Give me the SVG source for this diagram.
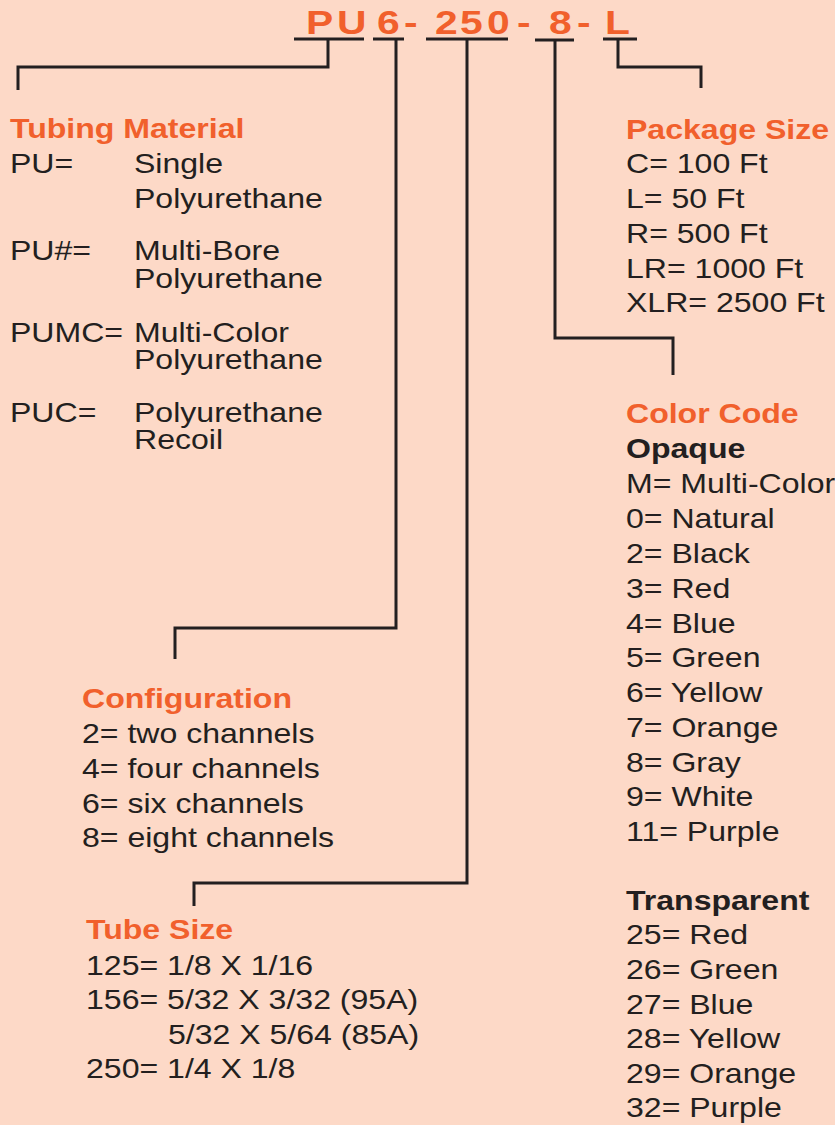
<svg xmlns="http://www.w3.org/2000/svg" width="835" height="1125" viewBox="0 0 835 1125">
<style>
.t{font-family:"Liberation Sans",Arial,sans-serif;font-size:28px;fill:#231f20}
.h{font-family:"Liberation Sans",Arial,sans-serif;font-size:28px;font-weight:bold;fill:#f1602c}
.b{font-family:"Liberation Sans",Arial,sans-serif;font-size:28px;font-weight:bold;fill:#231f20}
.code{font-family:"Liberation Sans",Arial,sans-serif;font-size:34px;font-weight:bold;fill:#f1602c}
.ln{fill:none;stroke:#231f20;stroke-width:3}
</style>
<rect width="835" height="1125" fill="#fdd9c7"/>
<g id="code" transform="scale(1.2,1)">
<text class="code" y="34" x="255 280.8 314.2 336.7 362.5 383.3 405.8 430.8 457.5 480.8 504.2">PU6-250-8-L</text>
</g>
<g id="connectors" class="ln">
<path d="M294,39 H364 M373,39 H404 M426,39 H508 M535,40 H574 M603,39 H637"/>
<path d="M328,39 V67 H18 V90"/>
<path d="M396,39 V628 H175 V659"/>
<path d="M467,39 V883 H194 V906"/>
<path d="M555,40 V338 H673 V375"/>
<path d="M618,39 V67 H701 V88"/>
</g>
<g id="tubing-material" transform="translate(10,0) scale(1.145,1)">
<text class="h" x="0" y="138">Tubing Material</text>
<text class="t" x="0" y="173">PU=</text>
<text class="t" x="108.3" y="173">Single</text>
<text class="t" x="108.3" y="208">Polyurethane</text>
<text class="t" x="0" y="260">PU#=</text>
<text class="t" x="108.3" y="260">Multi-Bore</text>
<text class="t" x="108.3" y="288">Polyurethane</text>
<text class="t" x="0" y="342">PUMC=</text>
<text class="t" x="108.3" y="342">Multi-Color</text>
<text class="t" x="108.3" y="369">Polyurethane</text>
<text class="t" x="0" y="422">PUC=</text>
<text class="t" x="108.3" y="422">Polyurethane</text>
<text class="t" x="108.3" y="449">Recoil</text>
</g>
<g id="package-size" transform="translate(626,0) scale(1.145,1)">
<text class="h" x="0" y="139">Package Size</text>
<text class="t" x="0" y="173">C= 100 Ft</text>
<text class="t" x="0" y="208">L= 50 Ft</text>
<text class="t" x="0" y="243">R= 500 Ft</text>
<text class="t" x="0" y="278">LR= 1000 Ft</text>
<text class="t" x="0" y="312">XLR= 2500 Ft</text>
</g>
<g id="color-code" transform="translate(626,0) scale(1.145,1)">
<text class="h" x="0" y="423">Color Code</text>
<text class="b" x="0" y="458">Opaque</text>
<text class="t" x="0" y="493">M= Multi-Color</text>
<text class="t" x="0" y="528">0= Natural</text>
<text class="t" x="0" y="563">2= Black</text>
<text class="t" x="0" y="598">3= Red</text>
<text class="t" x="0" y="633">4= Blue</text>
<text class="t" x="0" y="667">5= Green</text>
<text class="t" x="0" y="702">6= Yellow</text>
<text class="t" x="0" y="737">7= Orange</text>
<text class="t" x="0" y="772">8= Gray</text>
<text class="t" x="0" y="806">9= White</text>
<text class="t" x="0" y="841">11= Purple</text>
<text class="b" x="0" y="910">Transparent</text>
<text class="t" x="0" y="944">25= Red</text>
<text class="t" x="0" y="979">26= Green</text>
<text class="t" x="0" y="1014">27= Blue</text>
<text class="t" x="0" y="1048">28= Yellow</text>
<text class="t" x="0" y="1083">29= Orange</text>
<text class="t" x="0" y="1117">32= Purple</text>
</g>
<g id="configuration" transform="translate(82,0) scale(1.145,1)">
<text class="h" x="0" y="708">Configuration</text>
<text class="t" x="0" y="743">2= two channels</text>
<text class="t" x="0" y="778">4= four channels</text>
<text class="t" x="0" y="813">6= six channels</text>
<text class="t" x="0" y="847">8= eight channels</text>
</g>
<g id="tube-size" transform="translate(86,0) scale(1.145,1)">
<text class="h" x="0" y="939">Tube Size</text>
<text class="t" x="0" y="975">125= 1/8 X 1/16</text>
<text class="t" x="0" y="1009">156= 5/32 X 3/32 (95A)</text>
<text class="t" x="71.6" y="1044">5/32 X 5/64 (85A)</text>
<text class="t" x="0" y="1078">250= 1/4 X 1/8</text>
</g>
</svg>
